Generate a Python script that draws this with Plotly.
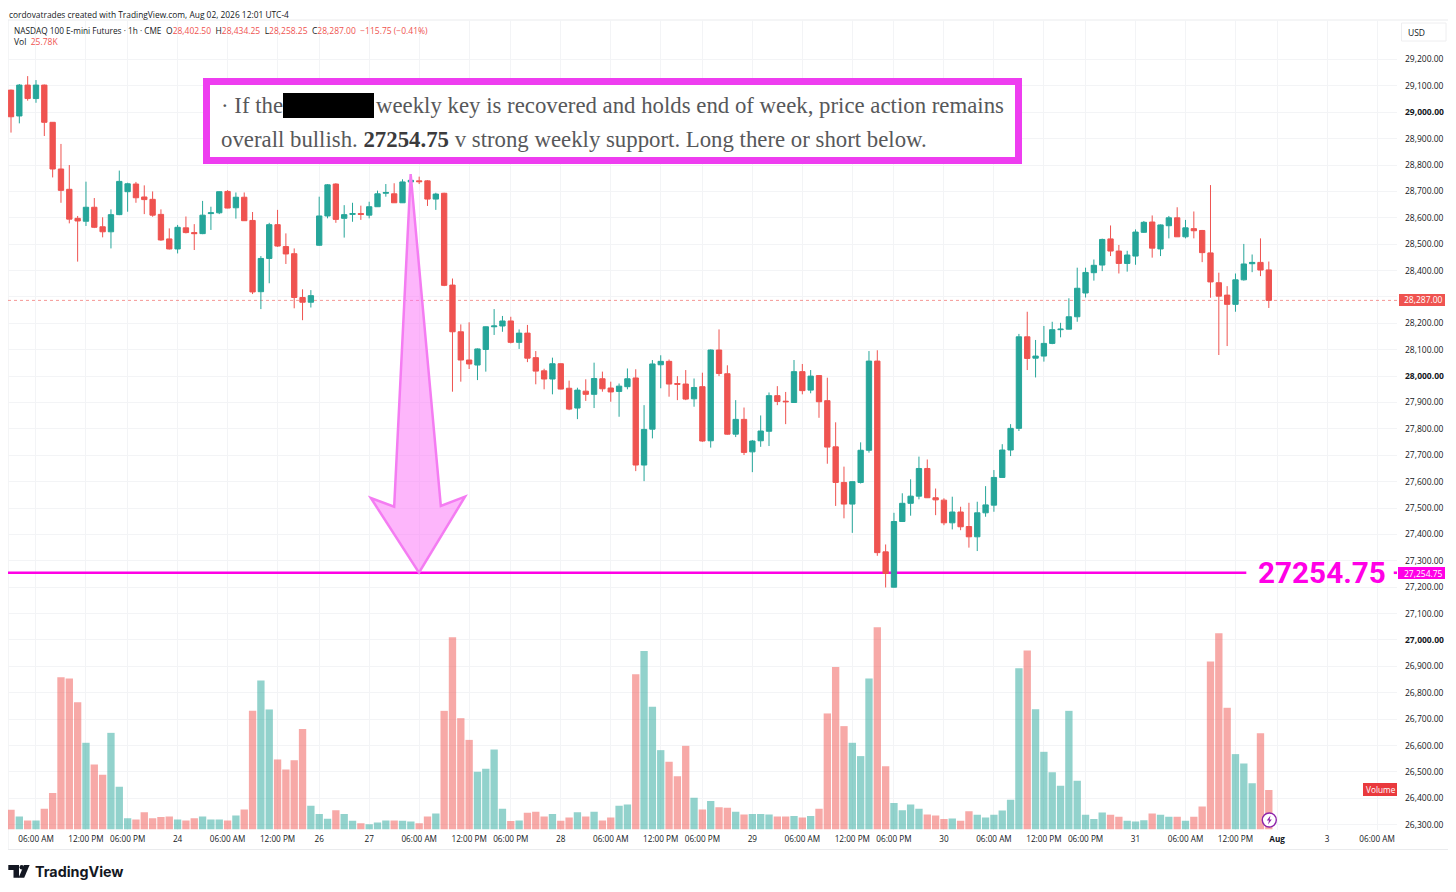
import plotly.graph_objects as go

# hourly bars, NQ futures
opens = [29084, 28986, 29103, 29052, 29103, 28962, 28785, 28708, 28598, 28587, 28640, 28566, 28547, 28612, 28699, 28728, 28679, 28670, 28613, 28520,
         28482, 28562, 28544, 28540, 28616, 28619, 28700, 28638, 28678, 28590, 28320, 28446, 28574, 28491, 28464, 28298, 28280, 28496, 28607, 28728,
         28598, 28613, 28616, 28610, 28642, 28693, 28691, 28657, 28736, 28740, 28740, 28671, 28693, 28345, 28168, 28061, 28042, 28101, 28187, 28190,
         28209, 28128, 28163, 28070, 28020, 27989, 28047, 27954, 27879, 27943, 27931, 27990, 27955, 27942, 27960, 27993, 27663, 27799, 28043, 28056,
         27972, 27970, 27914, 27960, 27755, 28099, 28009, 27780, 27836, 27713, 27755, 27791, 27926, 27905, 27900, 28017, 27947, 28002, 27907, 27732,
         27597, 27515, 27597, 27719, 28057, 27334, 27200, 27449, 27518, 27545, 27650, 27539, 27530, 27444, 27485, 27430, 27391, 27482, 27511, 27616,
         27720, 27802, 28149, 28068, 28076, 28124, 28176, 28178, 28225, 28315, 28392, 28421, 28520, 28474, 28427, 28455, 28545, 28584, 28482, 28570,
         28600, 28528, 28559, 28552, 28467, 28354, 28307, 28272, 28365, 28426, 28431, 28402.5]
highs = [29086, 29107, 29137, 29122, 29105, 28963, 28880, 28800, 28607, 28737, 28675, 28602, 28632, 28779, 28733, 28736, 28723, 28700, 28632, 28560,
         28573, 28605, 28576, 28664, 28642, 28700, 28705, 28696, 28696, 28622, 28455, 28581, 28630, 28541, 28484, 28329, 28326, 28680, 28728, 28731,
         28648, 28657, 28646, 28661, 28703, 28728, 28731, 28746, 28766, 28756, 28743, 28695, 28695, 28370, 28196, 28204, 28105, 28188, 28254, 28228,
         28225, 28177, 28194, 28095, 28028, 28070, 28048, 27983, 27956, 27988, 28051, 28017, 27979, 27972, 28029, 28026, 27890, 28061, 28079, 28063,
         28000, 28023, 27991, 28013, 28101, 28177, 28041, 27909, 27881, 27758, 27851, 27938, 27962, 27940, 28061, 28046, 28023, 28004, 27994, 27825,
         27657, 27601, 27749, 28095, 28098, 27362, 27482, 27556, 27609, 27695, 27684, 27574, 27537, 27543, 27505, 27520, 27524, 27583, 27644, 27742,
         27818, 28160, 28244, 28137, 28190, 28206, 28202, 28295, 28411, 28411, 28442, 28521, 28571, 28497, 28475, 28556, 28588, 28609, 28575, 28607,
         28640, 28592, 28624, 28554, 28724, 28392, 28341, 28389, 28501, 28461, 28522, 28434.25]
lows = [28923, 28958, 29044, 29036, 28910, 28753, 28657, 28579, 28434, 28569, 28561, 28526, 28484, 28610, 28623, 28657, 28614, 28604, 28513, 28480,
        28465, 28541, 28478, 28538, 28554, 28614, 28636, 28597, 28588, 28311, 28254, 28352, 28490, 28425, 28257, 28212, 28260, 28494, 28598, 28581,
        28525, 28585, 28592, 28598, 28641, 28680, 28657, 28656, 28735, 28728, 28645, 28630, 28341, 27941, 27979, 28027, 27985, 28017, 28156, 28168,
        28124, 28103, 28053, 27969, 27950, 27931, 27950, 27871, 27837, 27906, 27879, 27941, 27903, 27846, 27950, 27640, 27602, 27764, 27954, 27922,
        27909, 27909, 27884, 27751, 27729, 28000, 27778, 27769, 27701, 27636, 27732, 27735, 27890, 27818, 27899, 27931, 27935, 27842, 27668, 27508,
        27461, 27406, 27593, 27710, 27319, 27199, 27199, 27447, 27471, 27533, 27538, 27473, 27435, 27419, 27416, 27350, 27337, 27467, 27486, 27615,
        27697, 27792, 28023, 27995, 28055, 28121, 28147, 28177, 28206, 28298, 28362, 28398, 28455, 28389, 28396, 28422, 28543, 28449, 28455, 28522,
        28528, 28522, 28522, 28432, 28297, 28080, 28114, 28244, 28362, 28394, 28379, 28258.25]
closes = [28983, 29103, 29052, 29103, 28962, 28785, 28704, 28595, 28588, 28640, 28564, 28547, 28612, 28738, 28729, 28676, 28669, 28610, 28516, 28482,
          28564, 28544, 28540, 28610, 28619, 28699, 28637, 28678, 28589, 28319, 28446, 28574, 28493, 28463, 28298, 28280, 28305, 28607, 28725, 28594,
          28612, 28616, 28613, 28642, 28691, 28696, 28657, 28736, 28742, 28737, 28671, 28690, 28344, 28168, 28061, 28046, 28103, 28187, 28190, 28209,
          28128, 28163, 28068, 28019, 27989, 28047, 27951, 27875, 27947, 27931, 27991, 27952, 27940, 27962, 27990, 27663, 27798, 28046, 28056, 27970,
          27969, 27913, 27957, 27754, 28099, 28010, 27780, 27836, 27711, 27754, 27792, 27926, 27904, 27903, 28017, 27945, 28000, 27903, 27731, 27597,
          27515, 27600, 27719, 28057, 27331, 27252, 27449, 27518, 27545, 27650, 27539, 27531, 27444, 27485, 27429, 27391, 27482, 27512, 27616, 27720,
          27802, 28149, 28067, 28076, 28124, 28176, 28178, 28225, 28333, 28393, 28420, 28518, 28474, 28427, 28459, 28546, 28583, 28485, 28573, 28600,
          28528, 28562, 28551, 28468, 28357, 28303, 28272, 28365, 28425, 28431, 28402, 28287]

# volume, thousands of contracts
volumes = [12.9, 8.5, 5.9, 5.9, 13.5, 23.8, 99.6, 98.8, 83.3, 56.7, 42.5, 35.8, 63.2, 27.9, 7.4, 6.5, 11.3, 7.4, 8.1, 8.5,
           6.5, 5.9, 7.4, 8.5, 6.5, 6.5, 5.9, 9.2, 13.1, 77.6, 97.4, 78.5, 45.8, 39.2, 45.3, 65.8, 15.5, 10.2, 7.0, 12.6,
           10.2, 5.7, 4.1, 3.5, 4.6, 5.9, 5.9, 5.7, 5.2, 4.1, 8.5, 10.5, 77.6, 125.8, 72.8, 58.6, 37.7, 39.7, 52.3, 13.5,
           5.5, 5.9, 10.9, 11.6, 8.5, 10.2, 5.7, 7.8, 11.3, 8.5, 11.6, 5.9, 7.8, 15.5, 16.4, 101.6, 116.8, 80.2, 51.9, 44.3,
           34.9, 54.7, 20.7, 13.1, 18.7, 14.6, 14.2, 11.6, 9.8, 10.2, 10.2, 9.8, 8.5, 8.5, 8.9, 7.8, 8.9, 13.5, 75.9, 106.2,
           67.6, 56.7, 48.0, 98.8, 132.3, 41.4, 17.4, 12.6, 16.4, 13.5, 9.8, 9.2, 6.8, 7.2, 5.7, 12.0, 9.6, 7.8, 9.6, 12.4,
           19.4, 105.5, 117.1, 78.7, 50.8, 37.5, 28.6, 77.6, 31.8, 9.6, 6.8, 11.1, 9.6, 8.3, 5.7, 5.2, 6.1, 10.5, 9.6, 8.3,
           8.3, 5.7, 8.3, 15.0, 109.9, 128.4, 79.6, 49.3, 43.2, 30.3, 63.0, 25.78]

# x axis labels sit on bar numbers because the chart skips the closed hours
tick_bars = [3, 9, 14, 20, 26, 32, 37, 43, 49, 55, 60, 66, 72, 78, 83, 89, 95, 101, 106, 112, 118, 124, 129, 135, 141, 147, 152, 158, 164]
tick_labels = ["06:00 AM", "12:00 PM", "06:00 PM", "24", "06:00 AM", "12:00 PM", "26", "27", "06:00 AM", "12:00 PM", "06:00 PM", "28",
               "06:00 AM", "12:00 PM", "06:00 PM", "29", "06:00 AM", "12:00 PM", "06:00 PM", "30", "06:00 AM", "12:00 PM", "06:00 PM", "31",
               "06:00 AM", "12:00 PM", "<b>Aug</b>", "3", "06:00 AM"]
price_ticks = list(range(26300, 29300, 100))

support = 27254.75
last_close = 28287.00

# arrow drawn on the chart, in bar number / price
arrow_bars = [47.98, 51.6, 54.5, 48.98, 43.2, 46.0]
arrow_prices = [28766, 27508, 27543, 27254.75, 27538, 27505]

GREEN = "#26A69A"
RED = "#EF5350"
PINK = "#FF00E6"
BOX_PINK = "#EE3DF0"
TEXT = "#131722"
FONT = "Open Sans"
W = 1448
H = 876


# the page puts the figure 8px in, so convert picture pixels to paper
def xp(px):
    return (px - 8) / W


def yp(py):
    return 1 - (py - 8) / H


def label(text, x, y, size=8.5, color=TEXT, anchor="left", family=FONT, bg=None):
    fig.add_annotation(text=text, x=xp(x), y=yp(y), xref="paper", yref="paper", xanchor=anchor, yanchor="middle",
                       showarrow=False, bgcolor=bg, borderpad=0, align="left",
                       font=dict(size=size, color=color, family=family))


def box(x0, y0, x1, y1, fill, line=None, width=0, layer="above"):
    fig.add_shape(type="rect", xref="paper", yref="paper", x0=xp(x0), x1=xp(x1), y0=yp(y0), y1=yp(y1),
                  fillcolor=fill, line=dict(color=line, width=width), layer=layer)


def poly(points, fill, line=None, width=0, xref="paper", yref="paper"):
    path = "M" + " L".join(f"{a},{b}" for a, b in points) + " Z"
    fig.add_shape(type="path", path=path, xref=xref, yref=yref, fillcolor=fill, line=dict(color=line, width=width))


def price_text(p):
    # the red last price tag covers this one
    if p == 28300:
        return ""
    return f"<b>{p:,.2f}</b>" if p % 1000 == 0 else f"{p:,.2f}"


bars = list(range(len(closes)))
vol_colors = ["rgba(38,166,154,0.5)" if c >= o else "rgba(239,83,80,0.5)" for o, c in zip(opens, closes)]

fig = go.Figure()
fig.add_trace(go.Candlestick(x=bars, open=opens, high=highs, low=lows, close=closes, whiskerwidth=0,
                             increasing=dict(line=dict(color=GREEN, width=1), fillcolor=GREEN),
                             decreasing=dict(line=dict(color=RED, width=1), fillcolor=RED)))
fig.add_trace(go.Bar(x=bars, y=volumes, yaxis="y2", marker=dict(color=vol_colors, line=dict(width=0))))

fig.update_layout(
    width=W, height=H, margin=dict(l=0, r=0, t=0, b=0), showlegend=False, paper_bgcolor="white", plot_bgcolor="white",
    boxgap=0.2, boxgroupgap=0.2, bargap=0.12,
    xaxis=dict(domain=[xp(8), xp(1397)], range=[-0.36, 166.39], rangeslider=dict(visible=False), tickmode="array",
               tickvals=tick_bars, ticktext=tick_labels, tickfont=dict(size=8.2, color=TEXT, family=FONT), ticks="", tickangle=0,
               showgrid=True, gridcolor="#F3F4F6", gridwidth=1, zeroline=False, showline=False, ticklabelstandoff=3),
    yaxis=dict(domain=[yp(829.5), yp(20)], range=[26281.7, 29349.7], side="right", tickmode="array", tickvals=price_ticks,
               ticktext=[price_text(p) for p in price_ticks],
               tickfont=dict(size=8.5, color=TEXT, family=FONT), ticks="", showgrid=True, gridcolor="#F3F4F6", gridwidth=1,
               zeroline=False, showline=False, ticklabelstandoff=7),
    yaxis2=dict(overlaying="y", range=[0, 529.4], visible=False),
)

# chart frame
box(8, 20, 1449, 849.5, "rgba(0,0,0,0)", "#EAEBED", 1, layer="below")

# last price and support lines
fig.add_shape(type="line", x0=-0.36, x1=166.39, y0=last_close, y1=last_close, line=dict(color="rgba(239,83,80,0.6)", width=1, dash="dot"), layer="between")
fig.add_shape(type="line", x0=-0.36, x1=148.3, y0=support, y1=support, line=dict(color=PINK, width=2.6), layer="between")
fig.add_shape(type="line", x0=166.0, x1=166.39, y0=support, y1=support, line=dict(color=PINK, width=2.6))

# arrow down to the support
poly(list(zip(arrow_bars, arrow_prices)), "rgba(252,110,248,0.5)", "#F47CF2", 2.5, xref="x", yref="y")

# quote box
box(206.5, 81.5, 1018.5, 160.5, "white", BOX_PINK, 7)
box(283, 93, 374, 118, "black")
SERIF = "Liberation Serif"
GREY = "#57585A"
label("· If the", 220, 106, size=22.8, color=GREY, family=SERIF)
label("weekly key is recovered and holds end of week, price action remains", 375, 106, size=22.8, color=GREY, family=SERIF)
label("overall bullish. <b><span style='color:#3B3B3D'>27254.75</span></b> v strong weekly support. Long there or short below.",
      220, 139, size=22.8, color=GREY, family=SERIF)

# header
label("cordovatrades created with TradingView.com, Aug 02, 2026 12:01 UTC-4", 8, 14, size=8.4)
label("NASDAQ 100 E-mini Futures · 1h · CME", 13, 30, size=8.25)
label("O<span style='color:#EF5350'>28,402.50</span>  H<span style='color:#EF5350'>28,434.25</span>  "
      "L<span style='color:#EF5350'>28,258.25</span>  C<span style='color:#EF5350'>28,287.00</span>  "
      "<span style='color:#EF5350'>−115.75 (−0.41%)</span>", 165, 30, size=8.5)
label("Vol  <span style='color:#EF5350'>25.78K</span>", 13, 42, size=8.5)

# right side tags
box(1401.5, 23, 1446, 41, "white", "#EEEEF0", 1)
label("USD", 1407, 32, size=8.5)
box(1399, 294, 1445, 306, RED)
label("28,287.00", 1403, 300, size=8.5, color="white")
box(1398, 567, 1445, 579, PINK)
label("27,254.75", 1403, 573, size=8.5, color="white")
box(1363, 783, 1397, 796, "#E9393D")
label("Volume", 1365, 789.5, size=8.25, color="white")
label("<b>27254.75</b>", 1257, 572, size=29.7, color=PINK, family="Roboto")

# bolt badge
fig.add_shape(type="circle", xref="paper", yref="paper", x0=xp(1262.3), x1=xp(1276.3), y0=yp(813), y1=yp(827),
              fillcolor="white", line=dict(color="#8E24AA", width=1.4))
poly([(xp(1270.5), yp(815.5)), (xp(1266.8), yp(820.6)), (xp(1269), yp(820.6)), (xp(1268), yp(824.5)), (xp(1271.8), yp(819.4)), (xp(1269.6), yp(819.4))], "#8E24AA")

# TradingView logo
poly([(xp(8.3), yp(865)), (xp(19), yp(865)), (xp(19), yp(877.7)), (xp(13.5), yp(877.7)), (xp(13.5), yp(870)), (xp(8.3), yp(870))], "#131722")
poly([(xp(24), yp(865)), (xp(29.6), yp(865)), (xp(24.2), yp(877.7)), (xp(18.6), yp(877.7))], "#131722")
fig.add_shape(type="circle", xref="paper", yref="paper", x0=xp(19.5), x1=xp(24), y0=yp(865), y1=yp(869.5), fillcolor="#131722", line=dict(width=0))
label("<b>TradingView</b>", 34, 871, size=14.3, color="#131722", family="Inter")

fig.write_html("out.html")
